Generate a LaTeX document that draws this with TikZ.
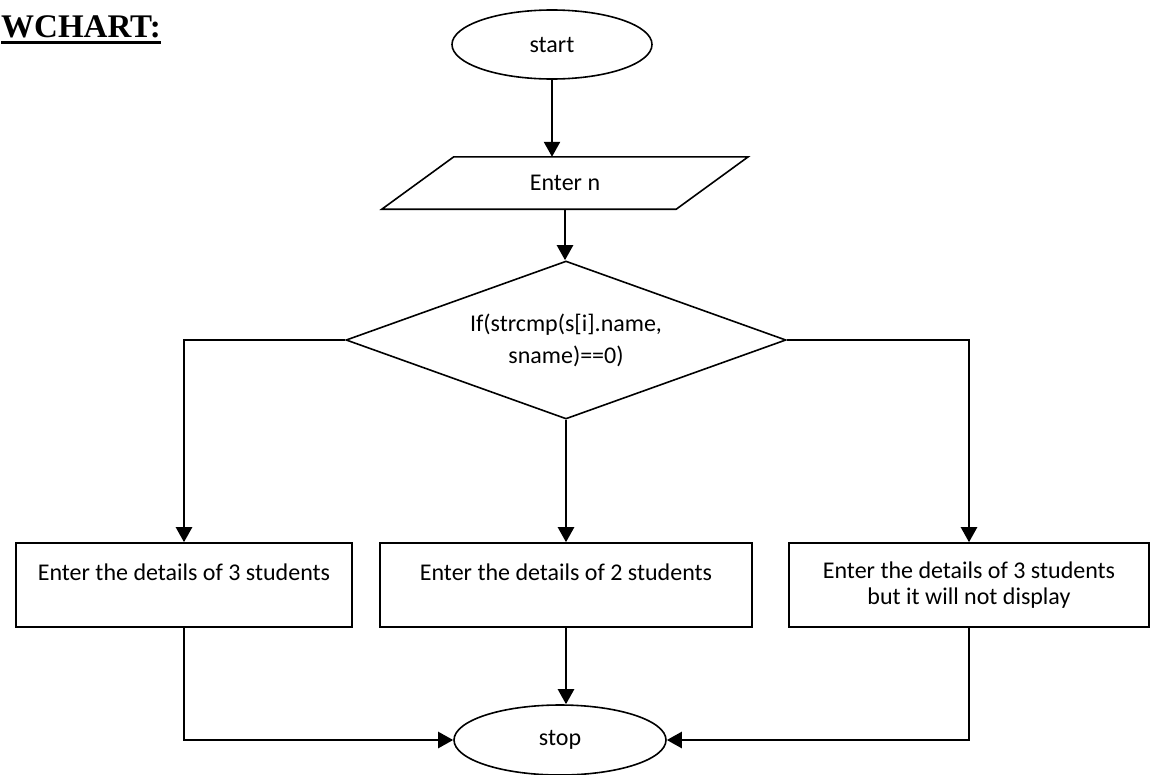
\documentclass[tikz,border=0pt]{standalone}
\usepackage{fontspec}
\setmainfont{Carlito}
\newfontfamily\headfont{Liberation Serif}
\usetikzlibrary{arrows.meta,shapes.geometric}

\begin{document}
\begin{tikzpicture}[x=1pt, y=-1pt, >={Triangle[length=15pt,width=16pt]},
	   font=\fontsize{24}{26}\selectfont,
	   term/.style={draw, ellipse, line width=1.6pt, inner sep=0pt, minimum height=69pt},
	   io/.style={inner sep=0pt, minimum width=366pt, minimum height=52pt},
	   cond/.style={draw, diamond, aspect=2.8, line width=1.6pt, inner sep=0pt, align=center, minimum width=440pt, minimum height=158pt},
	   proc/.style={draw, line width=1.6pt, align=center, minimum height=84pt},
	   flow/.style={->, line width=2.4pt}]
	  \useasboundingbox (0,0) rectangle (1150,774);
	  \node[anchor=base west, inner sep=0pt, font=\headfont\bfseries\fontsize{33}{35}\selectfont] (head) at (1,37) {WCHART:};
	  \draw[line width=3pt] ([yshift=-5.5pt]head.base west) -- ([yshift=-5.5pt]head.base east);
	  \node[term, minimum width=200pt] (start) at (552,44.5) {start};
	  \node[io] (enter) at (565,183) {Enter n};
	  \draw[line width=1.6pt] ([xshift=72pt]enter.north west) -- (enter.north east) -- ([xshift=-72pt]enter.south east) -- (enter.south west) -- cycle;
	  \node[cond] (cmp) at (566,340) {If(strcmp(s[i].name,\\[6pt]sname)==0)};
	  \node[proc, minimum width=336pt] (three) at (184,585) {Enter the details of 3 students\\~};
	  \node[proc, minimum width=372pt] (two) at (566,585) {Enter the details of 2 students\\~};
	  \node[proc, minimum width=360pt] (hidden) at (969,585) {Enter the details of 3 students\\but it will not display};
	  \node[term, minimum width=212pt, minimum height=70pt] (stop) at (560,740) {stop};
	  \draw[flow] (start.south) -- (start.south |- enter.north);
	  \draw[flow] (enter.south) -- (enter.south |- cmp.north);
	  \draw[flow] (cmp.west) -| (three.north); \draw[flow] (cmp.south) -- (cmp.south |- two.north); \draw[flow] (cmp.east) -| (hidden.north);
	  \draw[flow] (three.south) |- (stop.west); \draw[flow] (two.south) -- (two.south |- stop.north); \draw[flow] (hidden.south) |- (stop.east);
	\end{tikzpicture}
\end{document}
